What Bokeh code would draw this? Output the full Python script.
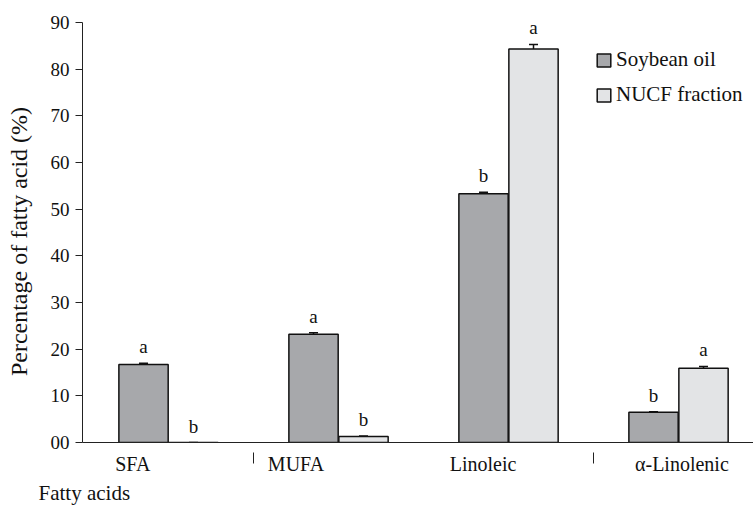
from bokeh.plotting import figure
from bokeh.models import (ColumnDataSource, Range1d, FixedTicker, Whisker, TeeHead,
                          LabelSet, Legend, LegendItem, Title)
from bokeh.embed import file_html
from bokeh.resources import INLINE

# ---- data ----
categories = ["SFA", "MUFA", "Linoleic", "\u03b1-Linolenic"]
soybean = [16.7, 23.2, 53.3, 6.5]
soybean_err = [0.3, 0.3, 0.3, 0.1]
nucf = [0.0, 1.3, 84.3, 15.9]
nucf_err = [0.0, 0.1, 1.0, 0.4]
soybean_letters = ["a", "a", "b", "b"]
nucf_letters = ["b", "b", "a", "a"]
y_ticks = [0, 10, 20, 30, 40, 50, 60, 70, 80, 90]
y_tick_labels = ["00", "10", "20", "30", "40", "50", "60", "70", "80", "90"]
x_axis_title = "Fatty acids"
y_axis_title = "Percentage of fatty acid (%)"
series_names = ["Soybean oil", "NUCF fraction"]

FONT = "Liberation Serif"
SOY_COLOR = "#a7a8ab"
NUCF_COLOR = "#e3e4e6"
BW = 0.29
OFF = 0.147
W, H = 753, 506
LEFT, TOP, BOTTOM = 82, 22, 64
X0 = 0.494
PX = 170.0

idx = [i + 1 for i in range(len(categories))]
soy_src = ColumnDataSource(dict(
    x=[i - OFF for i in idx], top=soybean,
    upper=[v + e for v, e in zip(soybean, soybean_err)],
    lab=soybean_letters))
nucf_src = ColumnDataSource(dict(
    x=[i + OFF for i in idx], top=nucf,
    upper=[v + e for v, e in zip(nucf, nucf_err)],
    lab=nucf_letters))

p = figure(width=W, height=H, output_backend="svg", toolbar_location=None,
           x_range=Range1d(X0, X0 + (W - LEFT) / PX), y_range=Range1d(0, 90),
           min_border_left=LEFT, min_border_right=0, min_border_top=TOP,
           min_border_bottom=BOTTOM, background_fill_color="white",
           border_fill_color="white", outline_line_color=None)
p.grid.visible = False

r_soy = p.vbar(x="x", top="top", width=BW, bottom=0, source=soy_src,
               fill_color=SOY_COLOR, line_color="#111111", line_width=1.5)
r_nucf = p.vbar(x="x", top="top", width=BW, bottom=0, source=nucf_src,
                fill_color=NUCF_COLOR, line_color="#111111", line_width=1.5)

for src in (soy_src, nucf_src):
    w = Whisker(base="x", upper="upper", lower="top", source=src,
                line_color="#111111", line_width=1.5,
                upper_head=TeeHead(size=9, line_color="#111111", line_width=1.5),
                lower_head=None)
    p.add_layout(w)
    ls = LabelSet(x="x", y="upper", text="lab", source=src, y_offset=6,
                  text_align="center", text_baseline="bottom",
                  text_font=FONT, text_font_size="19px", text_color="#111111")
    p.add_layout(ls)

# y axis
ya = p.yaxis[0]
ya.ticker = FixedTicker(ticks=y_ticks)
ya.major_label_overrides = {t: l for t, l in zip(y_ticks, y_tick_labels)}
ya.major_label_text_font = FONT
ya.major_label_text_font_size = "19px"
ya.major_label_text_color = "#111111"
ya.major_tick_in = 0
ya.major_tick_out = 7
ya.minor_tick_line_color = None
ya.axis_line_color = "#222222"
ya.major_tick_line_color = "#222222"
ya.axis_label = y_axis_title + "\u00a0\u00a0\u00a0"
ya.axis_label_text_font = FONT
ya.axis_label_text_font_size = "24px"
ya.axis_label_text_font_style = "normal"
ya.axis_label_text_color = "#111111"
ya.axis_label_standoff = 16
ya.major_label_standoff = 6

# x axis: category labels as major ticks, group separators as minor ticks
label_shift = [-0.21, -0.25, -0.15, 0.02]
label_pos = [round(i + s, 3) for i, s in zip(idx, label_shift)]
xa = p.xaxis[0]
xa.ticker = FixedTicker(ticks=label_pos, minor_ticks=[1.5, 3.5])
xa.major_label_overrides = {t: c for t, c in zip(label_pos, categories)}
xa.major_label_text_font = FONT
xa.major_label_text_font_size = "20px"
xa.major_label_text_color = "#111111"
xa.major_label_standoff = -11
xa.major_tick_in = 0
xa.major_tick_out = 0
xa.major_tick_line_color = None
xa.minor_tick_in = -10
xa.minor_tick_out = 21
xa.minor_tick_line_color = "#222222"
xa.minor_tick_line_width = 1
xa.axis_line_color = "#222222"

p.add_layout(Title(text=x_axis_title, align="left", offset=-44,
                   text_font=FONT, text_font_size="21px",
                   text_font_style="normal", text_color="#111111",
                   standoff=3), "below")

legend = Legend(items=[LegendItem(label=series_names[0], renderers=[r_soy]),
                       LegendItem(label=series_names[1], renderers=[r_nucf])],
                location=(513, 335), orientation="vertical",
                glyph_width=17, glyph_height=16, label_height=20,
                label_standoff=4, spacing=10, padding=0,
                border_line_color=None, background_fill_alpha=0,
                label_text_font=FONT, label_text_font_size="21px",
                label_text_color="#111111")
p.add_layout(legend)

open("out.html", "w").write(file_html(p, INLINE))
